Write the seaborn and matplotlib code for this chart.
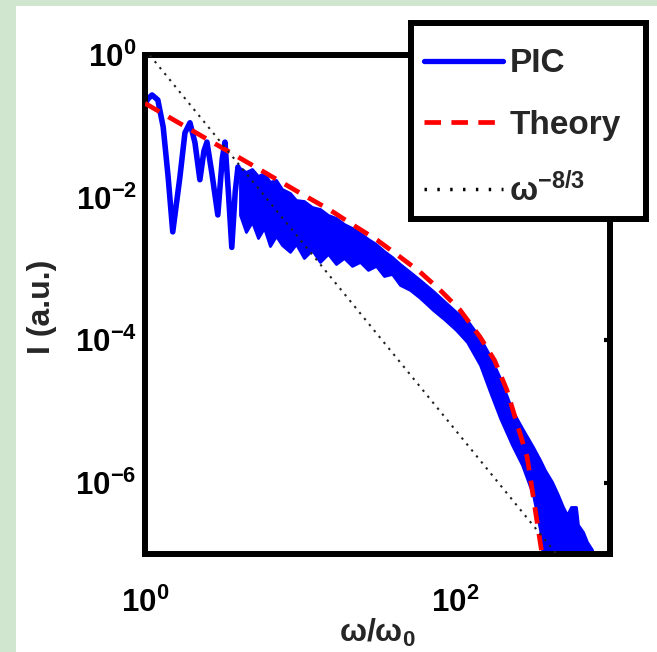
import numpy as np
import pandas as pd
import matplotlib
matplotlib.use("Agg")
import matplotlib.pyplot as plt
import seaborn as sns
from matplotlib.lines import Line2D
from matplotlib.patches import Rectangle
from matplotlib.ticker import NullLocator

# ---------------- data ----------------
# PIC spectrum, low-frequency oscillating part
pic_osc_omega = [1.0, 1.04, 1.11, 1.21, 1.31, 1.41, 1.51, 1.68, 1.81, 1.95, 2.10, 2.26,
                 2.40, 2.51, 2.70, 2.95, 3.15, 3.28, 3.45, 3.63, 3.82, 3.98, 4.10]
pic_osc_I = [0.20, 0.24, 0.275, 0.234, 0.098, 0.0195, 0.0033, 0.0195, 0.081, 0.112, 0.059, 0.0178,
             0.045, 0.060, 0.022, 0.0057, 0.035, 0.060, 0.012, 0.0020, 0.012, 0.0269, 0.020]

# PIC spectrum, dense noisy part (upper / lower envelope of the blue band)
pic_band_omega = [4.10, 4.48, 4.90, 5.36, 5.86, 6.40, 7.00, 7.65,
                  8.62, 9.42, 10.6, 11.95, 13.46, 15.16, 17.07, 19.22, 21.65, 24.39, 27.46,
                  30.93, 34.83, 39.22,
                  44.18, 51.25, 59.47, 72.13, 86.2, 101.5, 119.5,
                  145.0, 168.2, 195.1, 233.2, 270.6, 318.6,
                  353.5, 380.7, 422.6, 461.9, 497.6, 528.0, 560.2, 603.4, 621.6, 669.5, 710.5,
                  765.5, 788.6]
pic_band_upper = [2.60e-2, 2.29e-2, 2.52e-2, 2.01e-2, 2.21e-2, 1.66e-2, 1.77e-2, 1.32e-2,
                  1.16e-2, 9.25e-3, 8.96e-3, 7.38e-3, 6.92e-3, 5.70e-3, 5.18e-3, 4.26e-3,
                  3.75e-3, 3.19e-3, 2.63e-3, 2.23e-3, 1.78e-3, 1.47e-3,
                  1.17e-3, 9.05e-4, 6.98e-4, 4.90e-4, 3.44e-4, 2.49e-4, 1.92e-4,
                  1.07e-4, 6.0e-5, 2.95e-5, 1.05e-5, 5.87e-6, 3.18e-6,
                  2.09e-6, 1.5e-6, 1.03e-6, 6.75e-7, 4.57e-7, 3.54e-7, 4.57e-7, 4.57e-7,
                  2.57e-7, 2.04e-7, 1.48e-7, 1.15e-7, 5e-8]
pic_band_lower = [5.70e-3, 3.29e-3, 4.55e-3, 2.71e-3, 3.75e-3, 2.09e-3, 2.89e-3, 2.16e-3,
                  1.73e-3, 2.23e-3, 1.42e-3, 1.84e-3, 1.25e-3, 1.62e-3, 1.17e-3, 1.42e-3,
                  1.10e-3, 1.25e-3, 9.66e-4, 1.10e-3, 7.94e-4, 8.47e-4,
                  5.94e-4, 5.06e-4, 3.91e-4, 2.65e-4, 1.92e-4, 1.39e-4, 9.44e-5,
                  4.49e-5, 1.88e-5, 8.11e-6, 3.39e-6, 1.78e-6, 6.75e-7,
                  2.2e-7, 5e-8, 5e-8, 5e-8, 5e-8, 5e-8, 5e-8, 5e-8,
                  5e-8, 5e-8, 5e-8, 5e-8, 5e-8]

# Theory curve
theory_omega = [1.0, 2.0, 5.0, 10.0, 15.6, 22.0, 31.4, 44.2, 59.4, 80.0, 107.7, 145.0,
                180.0, 216.0, 292.0, 363.0, 400.0]
theory_I = [0.21, 8.8e-2, 2.79e-2, 1.16e-2, 6.70e-3, 4.13e-3, 2.54e-3, 1.47e-3, 9.06e-4,
            5.06e-4, 2.65e-4, 1.11e-4, 5.2e-5, 2.0e-5, 2.29e-6, 1.05e-7, 2.0e-8]

# omega^(-8/3) reference line
ref_omega = [1.0, 1000.0]
ref_I = [1.2, 1.2e-8]

legend_labels = ["PIC", "Theory", r"ω$^{-8/3}$"]
x_ticks = [1, 100]
x_tick_labels = [r"$10^{0}$", r"$10^{2}$"]
y_ticks = [1e-6, 1e-4, 1e-2, 1]
y_tick_labels = [r"$10^{-6}$", r"$10^{-4}$", r"$10^{-2}$", r"$10^{0}$"]

# ---------------- style ----------------
sns.set_style("white")
plt.rcParams["font.family"] = ["Liberation Sans", "DejaVu Sans"]
plt.rcParams["font.weight"] = "bold"
plt.rcParams["mathtext.fontset"] = "custom"
plt.rcParams["mathtext.rm"] = "Liberation Sans:bold"
plt.rcParams["mathtext.bf"] = "Liberation Sans:bold"
plt.rcParams["mathtext.it"] = "Liberation Sans:bold"
plt.rcParams["mathtext.sf"] = "Liberation Sans:bold"
plt.rcParams["mathtext.default"] = "bf"

BLUE = "#0000FF"
RED = "#FF0000"
GREEN = "#D0E6CE"
W, H = 657, 652

fig = plt.figure(figsize=(6.57, 6.52), dpi=100)
fig.patch.set_facecolor("white")
# light green frame on the left and top
fig.add_artist(Rectangle((0, 0), 16 / W, 1, transform=fig.transFigure,
                         facecolor=GREEN, edgecolor="none", zorder=0))
fig.add_artist(Rectangle((0, 1 - 6 / H), 1, 6 / H, transform=fig.transFigure,
                         facecolor=GREEN, edgecolor="none", zorder=0))

ax = fig.add_axes([145 / W, 1 - 554 / H, 465 / W, 499 / H])
ax.set_xscale("log")
ax.set_yscale("log")

# PIC
ax.fill_between(pic_band_omega, pic_band_lower, pic_band_upper,
                facecolor=BLUE, edgecolor=BLUE, linewidth=2.0, zorder=2)
sns.lineplot(x=pic_osc_omega, y=pic_osc_I, ax=ax, color=BLUE, linewidth=4.0,
             sort=False, estimator=None, zorder=2.1)
# Theory
sns.lineplot(x=theory_omega, y=theory_I, ax=ax, color=RED, linewidth=3.4,
             linestyle=(0, (3.5, 2.2)), sort=False, estimator=None, zorder=3)
# reference power law
sns.lineplot(x=ref_omega, y=ref_I, ax=ax, color="#222222", linewidth=1.5,
             linestyle=(0, (1.1, 2.6)), sort=False, estimator=None, zorder=4)

ax.set_xlim(1, 1000)
ax.set_ylim(1e-7, 1)
ax.set_xticks(x_ticks)
ax.set_xticklabels(x_tick_labels)
ax.set_yticks(y_ticks)
ax.set_yticklabels(y_tick_labels)
ax.xaxis.set_minor_locator(NullLocator())
ax.yaxis.set_minor_locator(NullLocator())
ax.tick_params(axis="both", which="major", direction="in", length=4, width=3,
               top=True, right=True, labelsize=22.5, colors="black")
ax.tick_params(axis="x", pad=24)
ax.tick_params(axis="y", pad=6)

for sp in ax.spines.values():
    sp.set_visible(True)
    sp.set_color("black")
    sp.set_linewidth(4.3)

ax.set_xlabel(r"ω/ω$_{0}$", fontsize=23, fontweight="bold")
ax.set_ylabel("I (a.u.)", fontsize=23, fontweight="bold")
ax.xaxis.set_label_coords(0.5, -0.126)
ax.yaxis.set_label_coords(-0.19, 0.495)

# legend box (drawn over the axes frame) and legend entries
fig.add_artist(Rectangle((410.5 / W, 1 - 219 / H), 235 / W, 195.5 / H,
                         transform=fig.transFigure, facecolor="white",
                         edgecolor="black", linewidth=4.3, zorder=5))
handles = [
    Line2D([], [], color=BLUE, linewidth=3.8),
    Line2D([], [], color=RED, linewidth=3.4, linestyle=(0, (3.5, 2.2))),
    Line2D([], [], color="black", linewidth=2.5, linestyle=(0, (0.7, 3.0))),
]
leg = fig.legend(handles, legend_labels, loc="upper left",
                 bbox_to_anchor=(406 / W, 1 - 30 / H), bbox_transform=fig.transFigure,
                 borderaxespad=0, frameon=False,
                 prop={"size": 24, "weight": "bold"},
                 handlelength=2.35, handletextpad=0.2, borderpad=0.55, labelspacing=0.92)
leg.set_zorder(6)

fig.savefig("out.png", dpi=100, facecolor="white")
